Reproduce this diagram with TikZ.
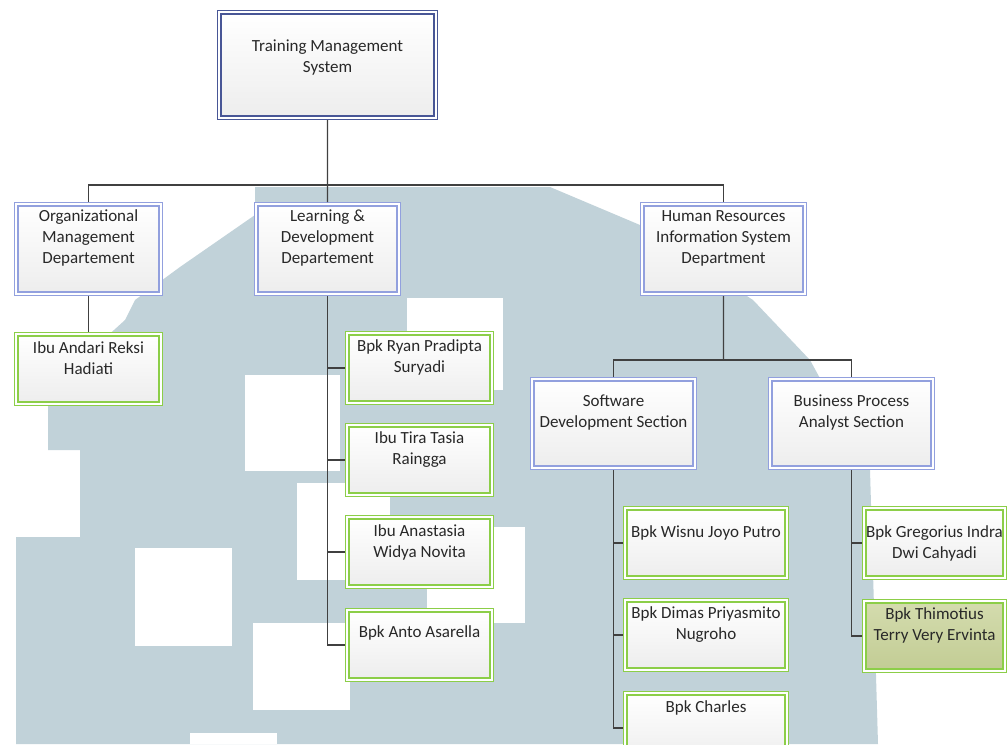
\documentclass[tikz,border=0pt]{standalone}
\usepackage{fontspec}
\setmainfont{Carlito}
\usetikzlibrary{shadows}

\definecolor{wmark}{RGB}{193,210,217}
\definecolor{bluebd}{RGB}{146,160,222}
\definecolor{navybd}{RGB}{72,86,150}
\definecolor{greenbd}{RGB}{140,206,72}
\definecolor{linegray}{RGB}{64,64,64}
\definecolor{txtgray}{RGB}{40,40,40}
\definecolor{olivetop}{RGB}{212,220,174}
\definecolor{olivebot}{RGB}{194,204,148}

\begin{document}
\begin{tikzpicture}[x=1pt,y=-1pt]

    \tikzset{box/.style={draw,shape=rectangle,anchor=north west,outer sep=2.4pt,
        line width=1.3pt,double=white,double distance=2pt,
        top color=white,bottom color=black!7,
        drop shadow={shadow xshift=2pt,shadow yshift=-2pt,opacity=0.18}},
      topbox/.style={box,draw=navybd},
      bluebox/.style={box,draw=bluebd,minimum height=89.2pt},
      greenbox/.style={box,draw=greenbd,minimum height=69.2pt},
      txt/.style={anchor=center,align=center,text=txtgray,font=\fontsize{17}{21}\selectfont}}

    \clip (0,0) rectangle (1008,744);

    % watermark in the background
    \fill[wmark] (255,187) -- (550,187) -- (640,225) -- (753,300) -- (810,360)
      -- (870,470) -- (878,744) -- (16,744) -- (16,537) -- (80,537) -- (80,450)
      -- (48,450) -- (48,390) -- (125,320) -- (135,300) -- (180,267) -- (255,215) -- cycle;
    \fill[white] (407,298) rectangle (503,390);
    \fill[white] (245,375) rectangle (340,471);
    \fill[white] (297,483) rectangle (390,580);
    \fill[white] (427,527) rectangle (525,623);
    \fill[white] (135,548) rectangle (232,646);
    \fill[white] (253,623) rectangle (350,710);
    \fill[white] (190,733) rectangle (277,744);

    \node[topbox,minimum width=216.2pt,minimum height=105.2pt,
      label={[txt,yshift=-48pt]north:Training Management\\System}] (tms) at (217,10) {};

    \node[bluebox,minimum width=144.2pt,
      label={[txt,yshift=-36pt]north:Organizational\\Management\\Departement}] (org) at (14,202) {};
    \node[bluebox,minimum width=142.2pt,
      label={[txt,yshift=-36pt]north:Learning \&\\Development\\Departement}] (lrn) at (254,202) {};
    \node[bluebox,minimum width=162.2pt,
      label={[txt,yshift=-36pt]north:Human Resources\\Information System\\Department}] (hr) at (640,202) {};

    \node[bluebox,minimum width=162.2pt,minimum height=88.2pt,
      label={[txt,yshift=-35.5pt]north:Software\\Development Section}] (sds) at (530,377) {};
    \node[bluebox,minimum width=162.2pt,minimum height=88.2pt,
      label={[txt,yshift=-35.5pt]north:Business Process\\Analyst Section}] (bpa) at (768,377) {};

    \node[greenbox,minimum width=144.2pt,
      label={[txt,yshift=-26pt]north:Ibu Andari Reksi\\Hadiati}] (andari) at (14,332) {};

    \node[greenbox,minimum width=144.2pt,
      label={[txt,yshift=-26pt]north:Bpk Ryan Pradipta\\Suryadi}] (ryan) at (345,331) {};
    \node[greenbox,minimum width=144.2pt,
      label={[txt,yshift=-27pt]north:Ibu Tira Tasia\\Raingga}] (tira) at (345,423) {};
    \node[greenbox,minimum width=144.2pt,
      label={[txt,yshift=-27pt]north:Ibu Anastasia\\Widya Novita}] (anas) at (345,515) {};
    \node[greenbox,minimum width=144.2pt,
      label={[txt,yshift=-25pt]north:Bpk Anto Asarella}] (anto) at (345,608) {};

    \node[greenbox,minimum width=161.2pt,
      label={[txt,yshift=-27pt]north:Bpk Wisnu Joyo Putro}] (wisnu) at (623,506) {};
    \node[greenbox,minimum width=161.2pt,
      label={[txt,yshift=-27pt]north:Bpk Dimas Priyasmito\\Nugroho}] (dimas) at (623,598) {};
    \node[greenbox,minimum width=161.2pt,
      label={[txt,yshift=-17pt]north:Bpk Charles}] (charles) at (623,691) {};

    \node[greenbox,minimum width=140.2pt,
      label={[txt,yshift=-37.5pt]north:Bpk Gregorius Indra\\Dwi Cahyadi}] (greg) at (862,506) {};
    \node[greenbox,minimum width=140.2pt,top color=olivetop,bottom color=olivebot,
      label={[txt,yshift=-26pt]north:Bpk Thimotius\\Terry Very Ervinta}] (thim) at (862,599) {};

    \coordinate (bus1) at (327.5,185);
    \coordinate (bus2) at (723.5,360);

    \begin{scope}[every path/.style={draw=linegray,line width=1.2pt}]
        \draw (tms.south) -- (bus1);
        \draw (org.north) |- (bus1) -| (hr.north);
        \draw (bus1) -- (lrn.north);
        \draw (org.south) -- (andari.north);

        \draw (lrn.south) |- (ryan.west);
        \draw (lrn.south) |- (tira.west);
        \draw (lrn.south) |- (anas.west);
        \draw (lrn.south) |- (anto.west);

        \draw (hr.south) -- (bus2);
        \draw (sds.north) |- (bus2) -| (bpa.north);

        \draw (sds.south) |- (wisnu.west);
        \draw (sds.south) |- (dimas.west);
        \draw (sds.south) |- (charles.west);

        \draw (bpa.south) |- (greg.west);
        \draw (bpa.south) |- (thim.west);
    \end{scope}
\end{tikzpicture}
\end{document}
